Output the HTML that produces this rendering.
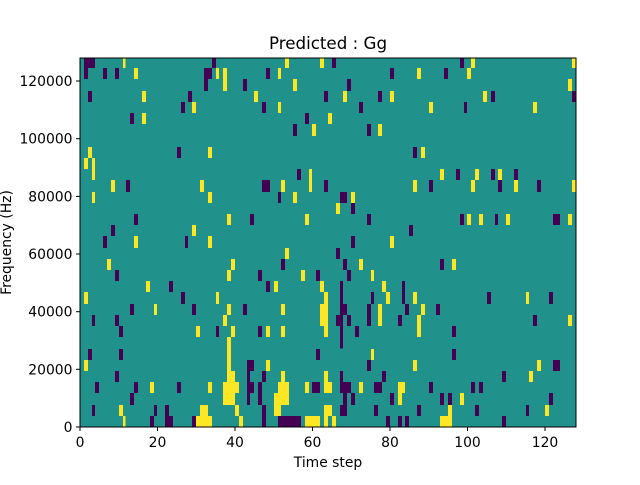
<!DOCTYPE html>
<html><head><meta charset="utf-8"><style>
html,body{margin:0;padding:0;background:#fff;}
svg text{font-family:"DejaVu Sans","Liberation Sans",sans-serif;fill:#000;}
</style></head><body>
<svg id="s" width="640" height="480" xmlns="http://www.w3.org/2000/svg">
<rect x="0" y="0" width="640" height="480" fill="#fff"/>
<rect x="80" y="58" width="496" height="369" fill="#21918c"/>
<g id="cells" shape-rendering="crispEdges"></g>
<rect x="80" y="58" width="496" height="369" fill="none" stroke="#000" stroke-width="1"/>
<g stroke="#000" stroke-width="1">
<line x1="80" y1="427" x2="80" y2="431"/><line x1="157.5" y1="427" x2="157.5" y2="431"/><line x1="235" y1="427" x2="235" y2="431"/><line x1="312.5" y1="427" x2="312.5" y2="431"/><line x1="390" y1="427" x2="390" y2="431"/><line x1="467.5" y1="427" x2="467.5" y2="431"/><line x1="545" y1="427" x2="545" y2="431"/>
<line x1="76" y1="427" x2="80" y2="427"/><line x1="76" y1="369.3" x2="80" y2="369.3"/><line x1="76" y1="311.7" x2="80" y2="311.7"/><line x1="76" y1="254" x2="80" y2="254"/><line x1="76" y1="196.4" x2="80" y2="196.4"/><line x1="76" y1="138.7" x2="80" y2="138.7"/><line x1="76" y1="81" x2="80" y2="81"/>
</g>
<g font-size="13.9" text-anchor="middle">
<text x="80" y="447">0</text><text x="157.5" y="447">20</text><text x="235" y="447">40</text><text x="312.5" y="447">60</text><text x="390" y="447">80</text><text x="467.5" y="447">100</text><text x="545" y="447">120</text>
</g>
<g font-size="13.9" text-anchor="end">
<text x="72.5" y="432">0</text><text x="72.5" y="374.3">20000</text><text x="72.5" y="316.7">40000</text><text x="72.5" y="259">60000</text><text x="72.5" y="201.4">80000</text><text x="72.5" y="143.7">100000</text><text x="72.5" y="86">120000</text>
</g>
<text x="328" y="467" font-size="13.9" text-anchor="middle">Time step</text>
<text x="0" y="0" font-size="13.9" text-anchor="middle" transform="translate(11,242.5) rotate(-90)">Frequency (Hz)</text>
<text x="328" y="49" font-size="16.7" text-anchor="middle">Predicted : Gg</text>
</svg>
<script>
var D=[
[80,58,"P 12 45 0 30;P 12 24 30 63;P 69 81 30 63;P 105 117 30 63;Y 129 137 0 30;Y 162 174 30 63;P 396 408 0 30;P 372 396 30 63;P 372 384 63 99;Y 408 417 30 63;Y 429 441 30 99;P 489 498 63 99;P 24 36 99 132;Y 186 198 99 132;P 324 336 99 132;P 303 315 132 165;Y 336 348 132 165;P 150 162 165 198;Y 186 198 165 198;P 291 303 267 300;Y 384 396 267 300;Y 24 36 267 300;Y 12 24 300 333;Y 36 45 300 366;Y 93 105 366 402;P 138 150 366 402;Y 360 372 366 402;Y 36 45 402 435;Y 384 396 402 435;P 162 174 468 501;Y 441 453 468 501;P 93 105 501 534;Y 336 348 501 534;P 69 81 534 555;Y 162 174 534 555;P 315 324 534 555;Y 384 396 534 555"],
[80,242,"P 69 81 0 18;Y 162 174 0 18;P 315 324 0 18;Y 384 396 0 18;Y 81 93 51 84;Y 453 465 51 84;P 105 117 84 117;Y 441 453 84 117;Y 198 210 117 150;P 267 279 117 150;Y 12 24 150 186;P 303 315 150 186;Y 408 417 150 186;P 150 162 186 219;Y 222 231 186 219;P 336 348 186 219;Y 441 453 186 219;P 489 498 186 219;P 36 45 219 252;P 105 117 219 252;Y 429 441 219 252;P 117 129 252 285;Y 348 360 252 285;P 408 417 252 285;Y 453 465 252 285;Y 441 453 285 390;P 24 36 321 354;P 117 129 321 354;Y 12 24 354 387;P 105 117 387 420;Y 441 465 387 420;P 45 57 420 453;P 162 174 420 453;Y 210 222 420 453;P 291 303 420 453;Y 384 396 420 453;Y 429 477 420 453;P 150 162 453 489;Y 429 465 453 489;P 36 45 489 522;Y 117 129 489 522;P 222 231 489 522;P 255 267 489 555;Y 360 384 489 522;Y 465 477 489 522;Y 129 137 522 555;P 210 222 522 555;P 255 279 522 555;P 336 348 522 555;Y 348 396 522 555;Y 477 489 522 555"],
[245,58,"Y 120 132 0 30;Y 225 237 0 30;P 261 273 0 30;P 63 75 30 63;Y 99 108 30 63;P 435 447 30 63;P 0 6 63 99;Y 144 156 63 99;P 306 318 63 99;Y 27 39 99 132;P 237 249 99 132;Y 294 306 99 132;P 399 411 99 132;Y 435 447 99 132;P 51 63 132 165;Y 99 108 132 165;P 342 354 132 165;P 180 192 165 198;Y 249 261 165 198;P 144 156 198 234;Y 201 213 198 234;P 366 378 198 234;Y 399 411 198 234;P 156 168 333 366;Y 192 201 333 402;P 51 75 366 402;Y 108 120 366 402;P 237 249 366 402;P 99 108 402 435;Y 144 156 402 435;P 285 306 402 435;Y 318 330 402 435;Y 273 285 435 468;P 318 330 435 468;P 15 27 468 501;Y 180 192 468 501;P 366 378 468 501;P 492 498 501 534;P 318 330 534 555;Y 435 447 534 555"],
[245,242,"P 318 330 0 18;Y 435 447 0 18;Y 120 132 18 51;P 273 285 18 51;P 108 120 51 84;P 294 306 51 84;Y 342 354 51 84;P 39 51 84 117;Y 168 180 84 117;P 213 225 84 117;P 306 318 84 117;Y 378 387 84 117;P 63 75 117 150;Y 87 99 117 150;Y 225 237 117 150;P 285 294 117 320;Y 411 423 117 150;P 471 480 117 186;Y 237 249 150 186;P 378 387 150 186;Y 423 435 150 186;P 0 6 186 219;Y 108 120 186 219;Y 225 249 186 252;P 285 306 186 219;P 366 378 186 252;Y 399 411 186 252;P 480 492 186 219;P 273 285 219 252;P 306 318 219 252;P 459 471 219 252;P 39 51 252 285;Y 63 75 252 285;Y 108 120 252 285;Y 237 249 252 285;P 330 342 252 285;P 213 225 321 354;Y 378 387 321 354;P 6 27 354 387;Y 63 75 354 387;P 366 378 354 387;P 6 15 387 489;P 51 63 387 420;Y 108 120 387 420;Y 237 249 387 420;P 285 294 387 420;P 411 423 387 420;P 6 27 420 453;P 39 51 420 489;Y 99 132 420 489;Y 87 99 453 522;Y 180 192 420 453;P 201 225 420 453;Y 237 261 420 453;P 285 318 420 453;Y 342 354 420 453;P 387 411 420 453;Y 459 480 420 453;P 294 306 453 489;P 318 330 453 489;P 435 447 453 489;Y 459 471 453 489;P 51 63 489 555;Y 87 108 489 522;Y 237 261 489 522;P 285 306 489 522;P 387 399 489 522;P 99 168 522 555;Y 180 225 522 555;Y 237 249 522 555;Y 261 273 522 555;P 423 435 522 555;P 459 471 522 555;P 480 492 522 555"],
[410,58,"P 150 162 0 30;Y 183 195 0 30;Y 486 498 0 30;Y 21 33 30 63;P 102 114 30 63;Y 171 183 30 63;Y 474 486 63 99;Y 219 231 99 132;P 243 255 99 132;P 486 498 99 132;Y 57 69 132 165;P 162 171 132 165;Y 369 381 132 165;P 9 21 267 300;Y 33 45 267 300;Y 90 102 333 366;P 138 150 333 366;Y 195 207 333 366;P 243 255 333 366;Y 264 276 333 366;P 312 324 333 366;Y 9 21 366 402;P 57 69 366 402;Y 183 195 366 402;P 264 276 366 402;Y 312 324 366 402;P 381 393 366 402;Y 486 498 366 402;P 150 162 468 501;Y 171 183 468 501;Y 207 219 468 501;P 255 264 468 501;Y 288 300 468 501;P 429 450 468 501;Y 474 486 468 501;P 0 9 501 534"],
[410,242,"P 90 102 51 84;Y 126 138 51 84;Y 9 21 150 186;P 231 243 150 186;Y 348 357 150 186;P 417 429 150 186;Y 33 45 186 219;P 78 90 186 219;Y 21 33 219 285;P 369 381 219 252;Y 474 486 219 252;P 126 138 252 285;P 126 138 321 354;Y 9 21 354 387;Y 381 393 354 387;P 429 450 354 387;P 276 288 387 420;Y 357 369 387 420;P 57 69 420 453;P 183 195 420 453;P 207 219 420 453;P 90 102 453 489;P 114 126 453 489;Y 150 162 453 489;P 417 429 453 489;P 21 33 489 522;Y 114 126 489 522;P 195 207 489 522;P 348 357 489 522;Y 405 417 489 522;Y 90 126 522 555;P 276 288 522 555"]
];
var g=document.getElementById('cells'),ns="http://www.w3.org/2000/svg";
D.forEach(function(b){b[2].split(';').forEach(function(s){var p=s.split(' ');
var r=document.createElementNS(ns,'rect');
var x0=b[0]+(+p[1])/3,x1=b[0]+(+p[2])/3,y0=b[1]+(+p[3])/3,y1=b[1]+(+p[4])/3;
r.setAttribute('x',x0);r.setAttribute('y',y0);r.setAttribute('width',x1-x0);r.setAttribute('height',y1-y0);
r.setAttribute('fill',p[0]=='P'?'#440154':'#fde725');g.appendChild(r);});});
</script>
</body></html>
